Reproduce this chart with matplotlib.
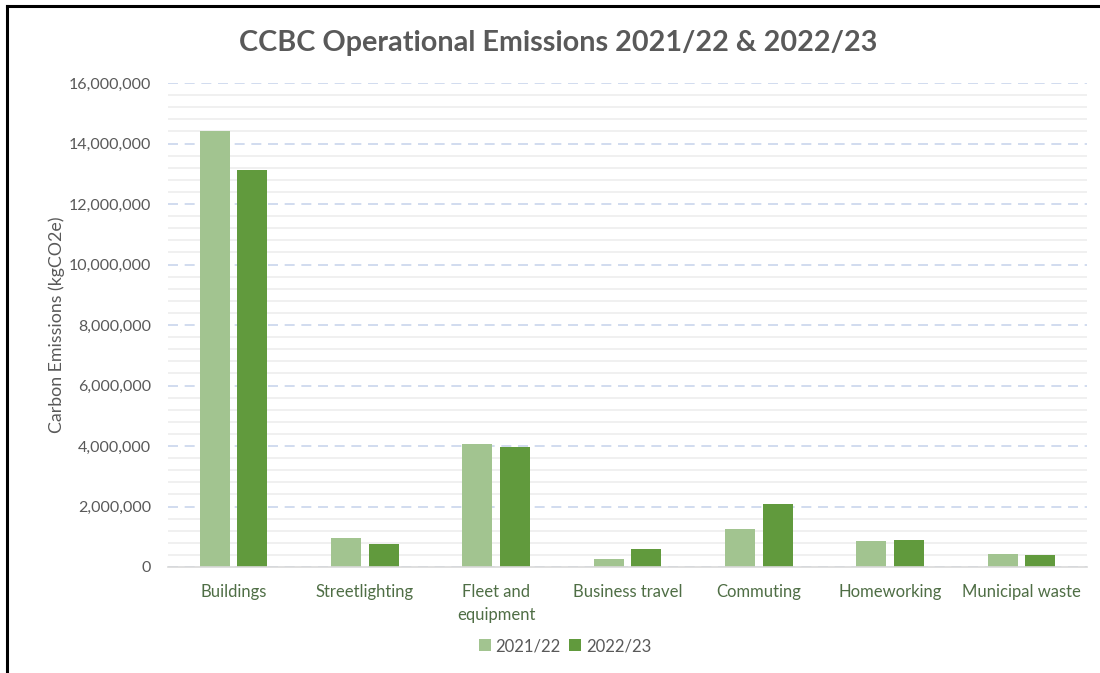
import matplotlib
matplotlib.use("Agg")
import matplotlib.pyplot as plt
from matplotlib.ticker import FuncFormatter, MultipleLocator
from matplotlib.lines import Line2D
from matplotlib.patches import Patch
import numpy as np

categories = ["Buildings", "Streetlighting", "Fleet and\nequipment", "Business travel",
              "Commuting", "Homeworking", "Municipal waste"]
series_names = ["2021/22", "2022/23"]
values_2021 = [14420000, 960000, 4070000, 260000, 1270000, 850000, 440000]
values_2022 = [13120000, 770000, 3970000, 610000, 2080000, 890000, 410000]

c_light = "#A2C490"
c_dark = "#619A3D"
txt = "#595959"
cat_col = "#4F6E45"

plt.rcParams['font.family'] = ['Lato', 'DejaVu Sans']

fig = plt.figure(figsize=(11, 6.73), dpi=100)
ax = fig.add_axes([168/1100, 1-567/673, (1087-168)/1100, (567-83)/673])

x = np.arange(len(categories))
w = 0.228
off = 0.143
ax.bar(x - off, values_2021, width=w, color=c_light, zorder=3, label=series_names[0])
ax.bar(x + off, values_2022, width=w, color=c_dark, zorder=3, label=series_names[1])

ax.set_xlim(-0.5, len(categories) - 0.5)
ax.set_ylim(0, 16000000)
ax.yaxis.set_major_locator(MultipleLocator(2000000))
ax.yaxis.set_minor_locator(MultipleLocator(400000))
ax.yaxis.set_major_formatter(FuncFormatter(lambda v, p: f"{int(v):,}"))
ax.grid(which='minor', axis='y', color='#EDEDED', linewidth=1.2, zorder=0)
ax.grid(which='major', axis='y', color='#CAD6EC', linewidth=1.2, linestyle=(0, (6, 4)), zorder=1)
ax.tick_params(which='both', length=0)
ax.tick_params(axis='y', labelsize=11.5, labelcolor=txt, pad=12)
ax.tick_params(axis='x', labelsize=12, labelcolor=cat_col, pad=12)
ax.set_xticks(x)
ax.set_xticklabels(categories, linespacing=1.55)
for s in ['top', 'right', 'left']:
    ax.spines[s].set_visible(False)
ax.spines['bottom'].set_color('#D9D9D9')
ax.spines['bottom'].set_linewidth(1.2)
ax.spines['bottom'].set_zorder(4)

ax.set_ylabel("Carbon Emissions (kgCO2e)", fontsize=12.8, color=txt, labelpad=3)

fig.text(558/1100, 1-43/673, "CCBC Operational Emissions 2021/22 & 2022/23",
         ha='center', va='center', fontsize=20.7, fontweight='bold', color=txt)

handles = [Patch(facecolor=c_light, edgecolor='none'), Patch(facecolor=c_dark, edgecolor='none')]
fig.legend(handles, series_names, loc='center', bbox_to_anchor=(565/1100, 1-646/673),
           ncol=2, frameon=False, fontsize=12, labelcolor=txt, handlelength=0.7,
           handleheight=0.7, handletextpad=0.3, columnspacing=0.5)

# outer border (left and top visible)
fig.add_artist(Line2D([6.5/1100, 6.5/1100], [0, 1-6/673], color='black', linewidth=2.2,
                      transform=fig.transFigure))
fig.add_artist(Line2D([6.5/1100, 1], [1-6/673, 1-6/673], color='black', linewidth=2.2,
                      transform=fig.transFigure))

fig.savefig("out.png", dpi=100)
